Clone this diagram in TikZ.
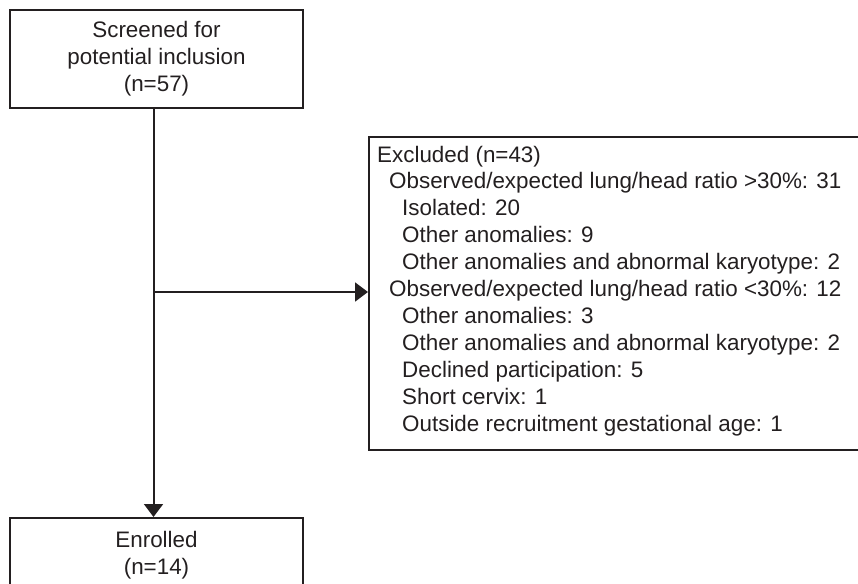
\documentclass[tikz,border=0pt]{standalone}
\usepackage{fontspec}
\setmainfont{Liberation Sans}
\usetikzlibrary{arrows.meta}
\definecolor{ink}{HTML}{231F20}
\begin{document}
\begin{tikzpicture}[x=1pt,y=-1pt,
  box/.style={draw=ink, line width=2pt, rectangle, inner sep=0pt, text=ink,
    font=\fontsize{22.4}{26.9}\selectfont, align=center},
  txt/.style={inner sep=0pt, text=ink, font=\fontsize{22.4}{26.9}\selectfont, align=left},
  conn/.style={draw=ink, line width=2pt},
  arr/.style={conn, -{Triangle[length=13pt,width=19pt]}}]
\useasboundingbox (0,0) rectangle (858,583);
\node[box, minimum width=293pt, minimum height=98pt] (screen) at (156.5,59)
  {Screened for\\potential inclusion\\(n=57)};
\node[box, minimum width=293pt, minimum height=74pt] (enrol) at (156.5,555)
  {Enrolled\\(n=14)};
\node[box, anchor=north west, minimum width=500pt, minimum height=313pt] (exbox) at (368,136) {};
\node[txt, anchor=base west] (extext) at (377,431)
  {Excluded (n=43)\\
   \hspace*{12pt}Observed/expected lung/head ratio >30\%: 31\\
   \hspace*{25pt}Isolated: 20\\
   \hspace*{25pt}Other anomalies: 9\\
   \hspace*{25pt}Other anomalies and abnormal karyotype: 2\\
   \hspace*{12pt}Observed/expected lung/head ratio <30\%: 12\\
   \hspace*{25pt}Other anomalies: 3\\
   \hspace*{25pt}Other anomalies and abnormal karyotype: 2\\
   \hspace*{25pt}Declined participation: 5\\
   \hspace*{25pt}Short cervix: 1\\
   \hspace*{25pt}Outside recruitment gestational age: 1};
\coordinate (branch) at (153.5,292);
\draw[arr] (screen.south -| branch) -- (enrol.north -| branch);
\draw[arr] (branch) -- (branch -| exbox.west);
\end{tikzpicture}
\end{document}
